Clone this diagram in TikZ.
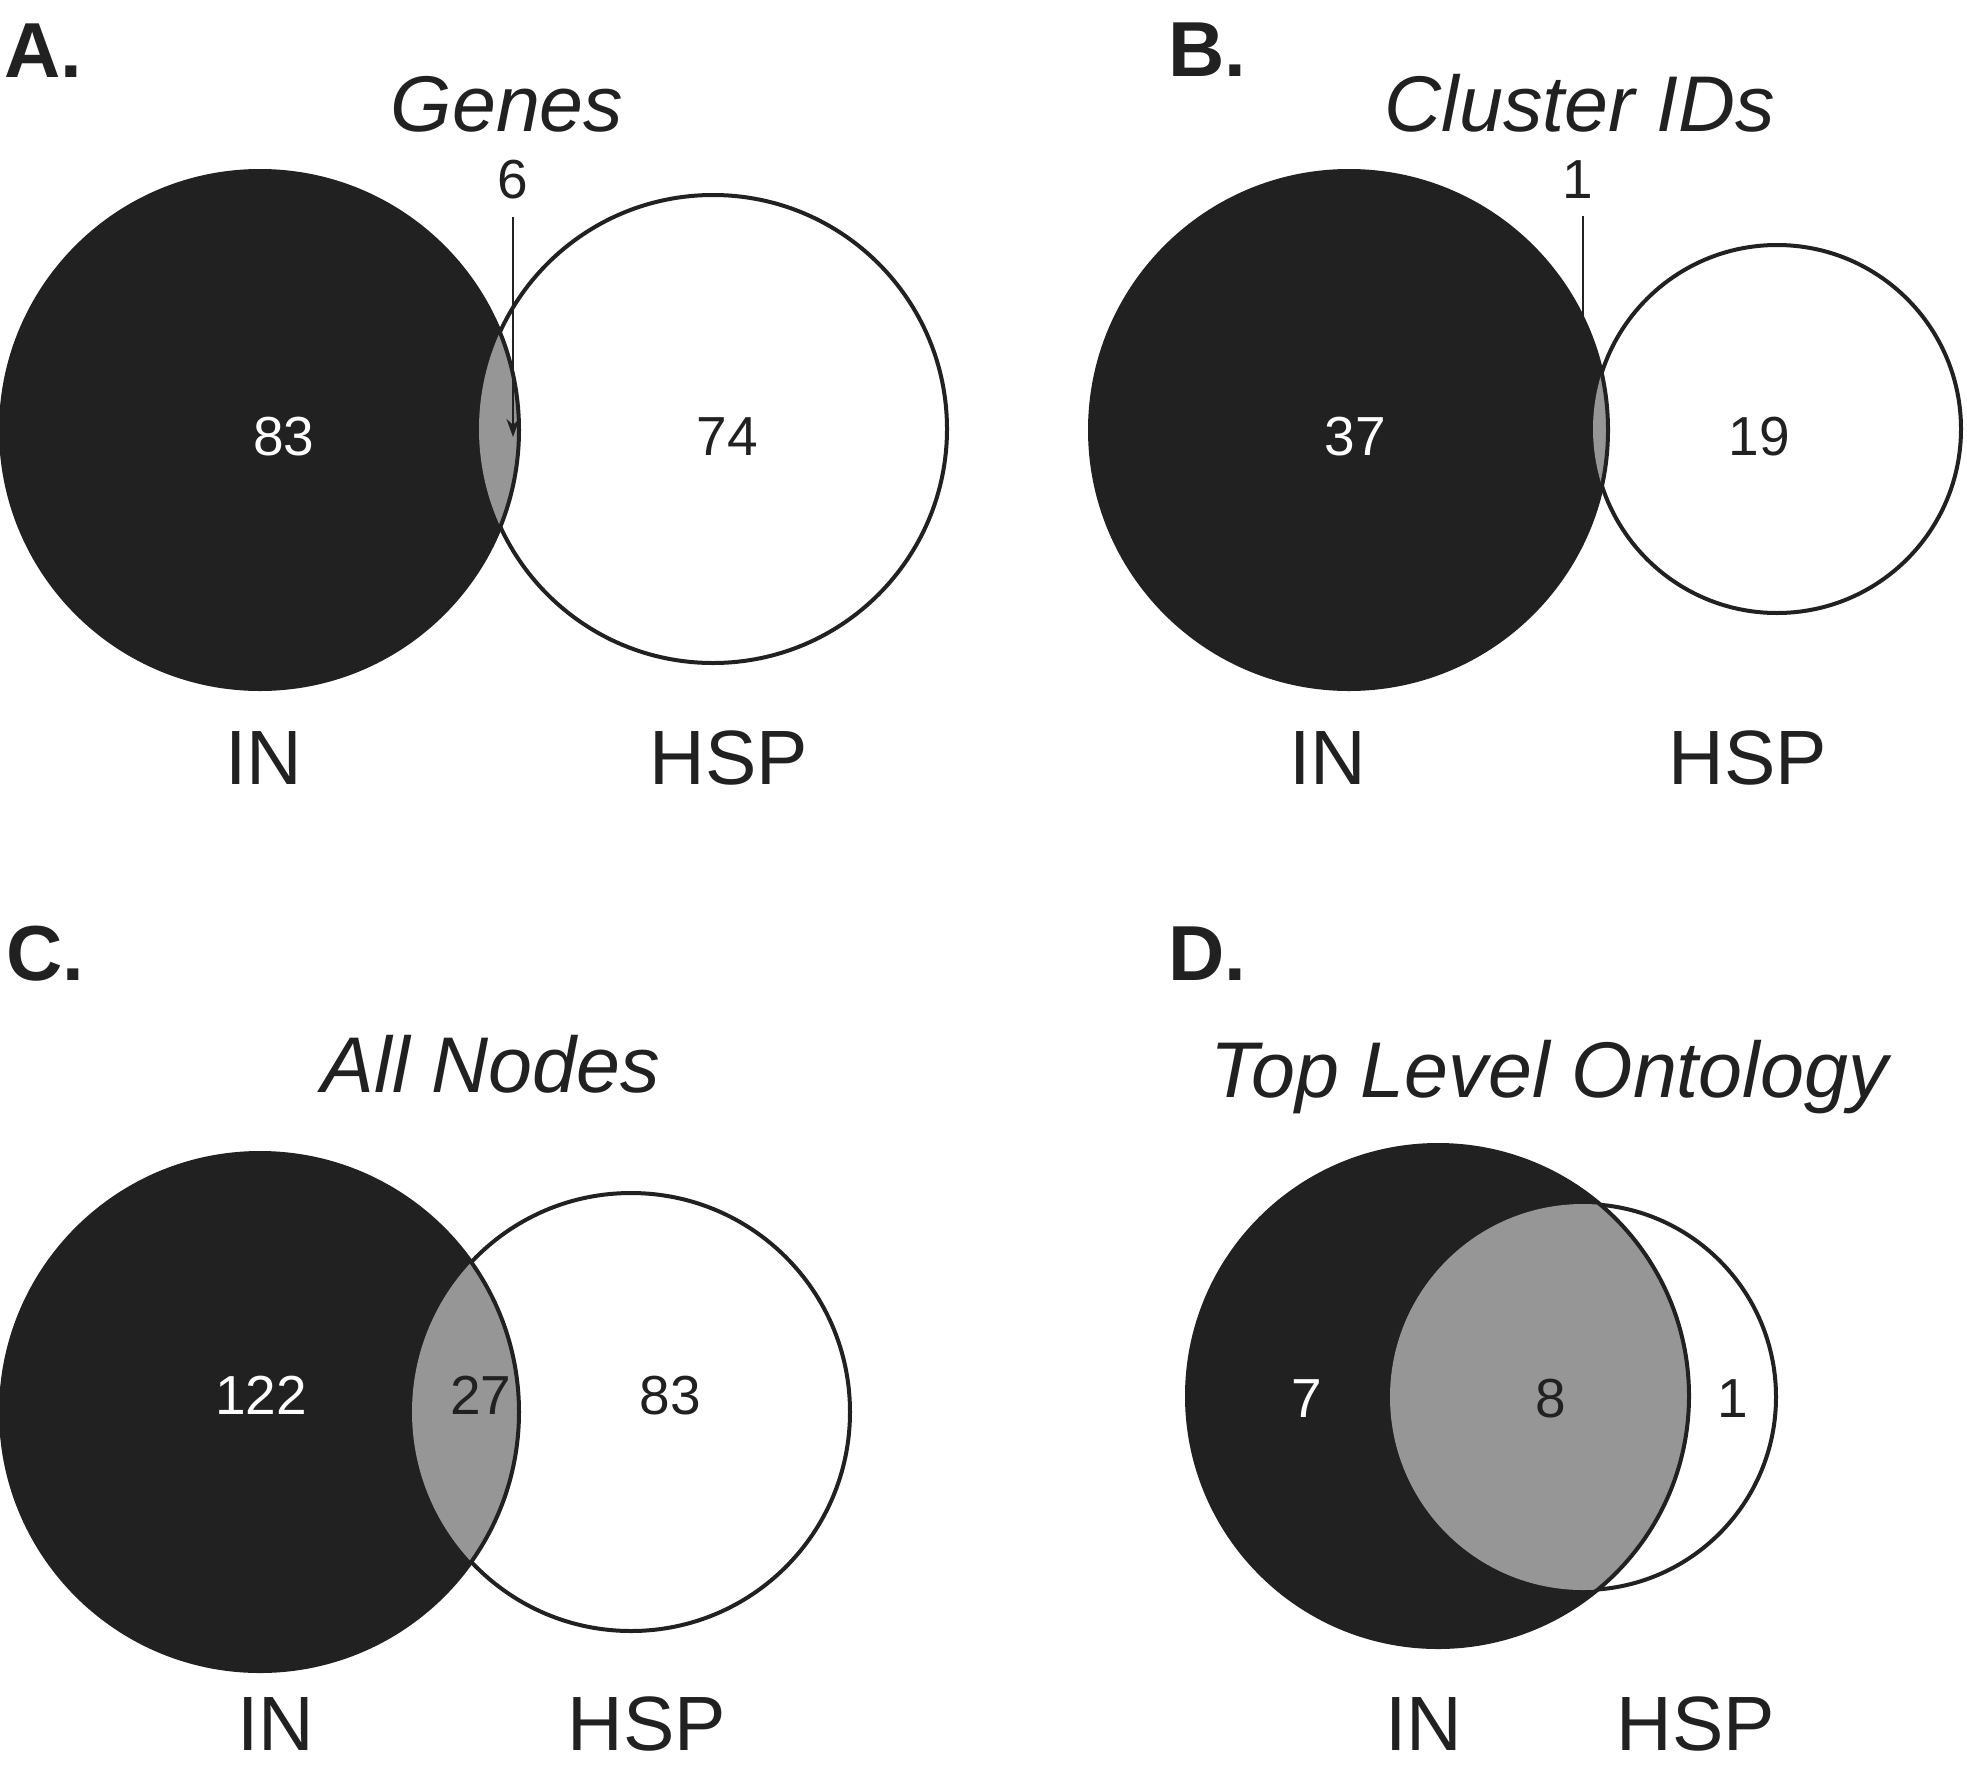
\documentclass[tikz,border=0pt]{standalone}
\usepackage{fontspec}
\setmainfont{Liberation Sans}
\usetikzlibrary{arrows.meta}
\definecolor{vdark}{HTML}{212121}
\definecolor{vgray}{HTML}{969696}
\newcommand\drawvenn[6]{%
  \path[fill=white, ringline] (#4,#5) circle[radius=#6pt];
  \fill[vdark] (#1,#2) circle[radius=#3pt];
  \begin{scope}
    \clip (#1,#2) circle[radius=#3pt];
    \fill[vgray] (#4,#5) circle[radius=#6pt];
  \end{scope}
  \draw[ringline] (#1,#2) circle[radius=#3pt];
}
\begin{document}
\begin{tikzpicture}[x=1pt,y=-1pt,
  title/.style={font=\fontsize{79}{90}\selectfont\itshape, text=vdark, inner sep=0, anchor=base},
  setlabel/.style={font=\fontsize{77}{90}\selectfont, text=vdark, inner sep=0, anchor=base},
  panel/.style={font=\fontsize{78}{90}\selectfont\bfseries, text=vdark, inner sep=0, anchor=base west},
  count/.style={font=\fontsize{55}{66}\selectfont, inner sep=0, anchor=base},
  ringline/.style={line width=4pt, draw=vdark},
  lead/.style={line width=2pt, draw=vdark}]
\useasboundingbox[fill=white] (0,0) rectangle (1967,1775);

% ---------- Panel A ----------
\drawvenn{260}{430}{259}{713}{429}{234}
\node[panel] (pA) at (4,77) {A.};
\node[title] (tA) at (507,131) {Genes};
\node[count, text=white] (inA) at (284,455) {83};
\node[count, text=vdark] (hspA) at (727,455) {74};
\node[count, text=vdark] (n6) at (513,198) {6};
\coordinate (tipA) at (513,437);
\draw[lead, -{Stealth[length=18pt,width=13pt]}] ([yshift=-18pt]n6.south) -- (tipA);
\node[setlabel] (lA1) at (264,784) {IN};
\node[setlabel] (lA2) at (729,784) {HSP};

% ---------- Panel B ----------
\drawvenn{1349}{430}{259}{1777}{429}{184}
\node[panel] (pB) at (1168,76) {B.};
\node[title] (tB) at (1580,131) {Cluster IDs};
\node[count, text=white] (inB) at (1355,455) {37};
\node[count, text=vdark] (hspB) at (1759,455) {19};
\node[count, text=vdark] (n1) at (1578,198) {1};
\coordinate (endB) at (1583,322);
\draw[lead] ([yshift=-18pt]n1.south -| endB) -- (endB);
\node[setlabel] (lB1) at (1328,784) {IN};
\node[setlabel] (lB2) at (1748,784) {HSP};

% ---------- Panel C ----------
\drawvenn{260}{1412}{259}{631}{1412}{219}
\node[panel] (pC) at (6,980) {C.};
\node[title] (tC) at (491,1092) {All Nodes};
\node[count, text=white] (inC) at (261,1414) {122};
\node[count, text=vdark] (bothC) at (481,1414) {27};
\node[count, text=vdark] (hspC) at (670,1414) {83};
\node[setlabel] (lC1) at (276,1750) {IN};
\node[setlabel] (lC2) at (647,1750) {HSP};

% ---------- Panel D ----------
\drawvenn{1438}{1396}{251}{1583}{1397}{193}
\node[panel] (pD) at (1168,980) {D.};
\node[title] (tD) at (1549,1097) {Top Level Ontology};
\node[count, text=white] (inD) at (1307,1417) {7};
\node[count, text=vdark] (bothD) at (1551,1417) {8};
\node[count, text=vdark] (hspD) at (1733,1417) {1};
\node[setlabel] (lD1) at (1424,1750) {IN};
\node[setlabel] (lD2) at (1696,1750) {HSP};
\end{tikzpicture}
\end{document}
